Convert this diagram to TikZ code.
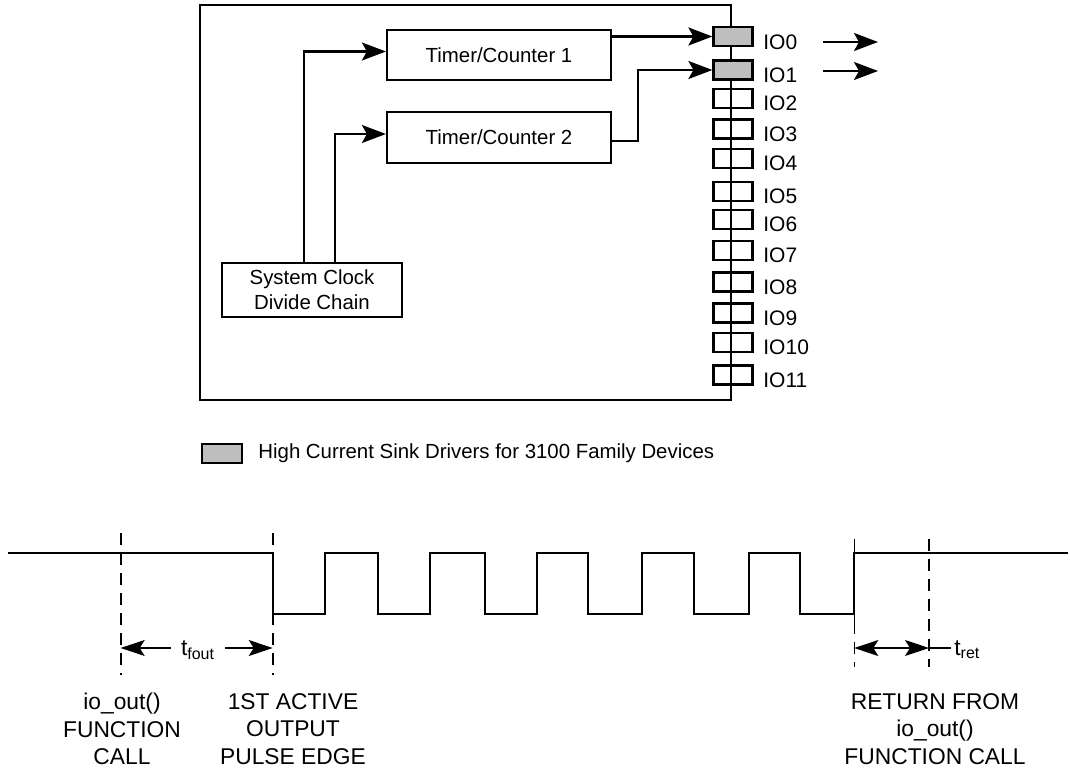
\documentclass[tikz,border=0pt]{standalone}
\usepackage{fontspec}
\setmainfont{Liberation Sans}
\usetikzlibrary{arrows.meta}
\definecolor{padgray}{RGB}{190,190,190}
\tikzset{
  ln/.style={line width=1.1pt},
  arr/.style={ln,-{Stealth[length=12pt,width=9pt,inset=2.5pt]}},
  thinarr/.style={line width=0.6pt,-{Stealth[length=12pt,width=8pt,inset=2.5pt]}},
  box/.style={draw,ln,inner sep=0pt,font=\fontsize{10.2}{12.5}\selectfont,align=center},
  pad/.style={draw,ln,minimum width=19.5pt,minimum height=9.5pt,inner sep=0pt},
  hipad/.style={pad,fill=padgray},
  iolbl/.style={anchor=west,inner sep=0pt,font=\fontsize{10.5}{12}\selectfont},
  wave/.style={line width=1.1pt},
  dsh/.style={line width=0.8pt,dash pattern=on 6pt off 4pt},
  blbl/.style={align=center,font=\fontsize{11.4}{13.7}\selectfont,inner sep=0pt},
}
\begin{document}
\begin{tikzpicture}[x=0.5pt,y=-0.5pt]
\useasboundingbox (0,0) rectangle (1070,771);
% chip outline
\draw[ln] (200,5) rectangle (731,400);
% blocks
\node[box,minimum width=112pt,minimum height=25pt] (tc1) at (499,55) {Timer/Counter 1};
\node[box,minimum width=112pt,minimum height=25.5pt] (tc2) at (499,137.5) {Timer/Counter 2};
\node[box,minimum width=90pt,minimum height=27pt] (sc) at (312,290) {System Clock\\Divide Chain};
% pads
\foreach \i/\y in {2/98.5,3/129,4/158.5,5/191.5,6/219.5,7/250.5,8/282,9/313,10/342.5,11/375}{
  \node[pad] (p\i) at (733,\y) {};
  \node[iolbl] (l\i) at (763,\y+5) {IO\i};
}
\node[hipad] (p0) at (733,36.5) {};
\node[iolbl] (l0) at (763,42.5) {IO0};
\node[hipad] (p1) at (733,70) {};
\node[iolbl] (l1) at (763,75) {IO1};
% connectors
\draw[arr] ([xshift=-4pt]sc.north) |- ([yshift=1.75pt]tc1.west);
\draw[arr] ([xshift=11.5pt]sc.north) |- ([yshift=1.75pt]tc2.west);
\draw[arr] (p0.west -| tc1.east) -- (p0.west);
\draw[arr] ([yshift=-1.75pt]tc2.east) -- ++(26,0) |- (p1.west);
% external outputs
\coordinate (o0a) at (823,42); \coordinate (o0b) at (878,42);
\coordinate (o1a) at (823,71); \coordinate (o1b) at (878,71);
\draw[arr] (o0a) -- (o0b);
\draw[arr] (o1a) -- (o1b);
% legend
\node[hipad,minimum width=20pt] (lg) at (222,453.5) {};
\node[anchor=west,inner sep=0pt,font=\fontsize{10.2}{12}\selectfont] (lgt) at (258,453) {High Current Sink Drivers for 3100 Family Devices};
% waveform
\draw[wave] (8,553) -- (272.7,553) -- (272.7,614) -- (325,614) -- (325,553)
  -- (378.3,553) -- (378.3,614) -- (430,614) -- (430,553)
  -- (485,553) -- (485,614) -- (536.7,614) -- (536.7,553)
  -- (588.3,553) -- (588.3,614) -- (642.3,614) -- (642.3,553)
  -- (694.3,553) -- (694.3,614) -- (749.3,614) -- (749.3,553)
  -- (800,553) -- (800,614) -- (854.3,614) -- (854.3,553) -- (1068,553);
\draw[line width=0.8pt] (854.3,539) -- (854.3,622);
% dashed markers
\draw[dsh] (120.7,533) -- (120.7,675);
\draw[dsh] (272.7,533) -- (272.7,675);
\draw[dsh] (854.3,622) -- (854.3,667);
\draw[dsh] (929,539) -- (929,667);
% t_fout
\coordinate (fa) at (120.7,648);
\coordinate (fb) at (272.7,648);
\node[inner xsep=5pt,inner ysep=0pt,font=\fontsize{11.4}{13}\selectfont] (tf) at (198,650) {t\textsubscript{fout}};
\draw[thinarr] (tf.west |- fa) -- (fa);
\draw[thinarr] (tf.east |- fb) -- (fb);
% t_ret
\coordinate (ra) at (854.3,648);
\coordinate (rb) at (929,648);
\draw[line width=0.6pt,{Stealth[length=12pt,width=8pt,inset=2.5pt]}-{Stealth[length=12pt,width=8pt,inset=2.5pt]}] (ra) -- (rb);
\node[anchor=west,inner xsep=1.5pt,inner ysep=0pt,font=\fontsize{11.4}{13}\selectfont] (tr) at (951,650) {t\textsubscript{ret}};
\draw[line width=0.6pt] (rb) -- (rb -| tr.west);
% bottom labels
\node[blbl] (b1) at (122,729) {io\_out()\\FUNCTION\\CALL};
\node[blbl] (b2) at (293,729) {1ST ACTIVE\\OUTPUT\\PULSE EDGE};
\node[blbl] (b3) at (935,729) {RETURN FROM\\io\_out()\\FUNCTION CALL};
\end{tikzpicture}
\end{document}
